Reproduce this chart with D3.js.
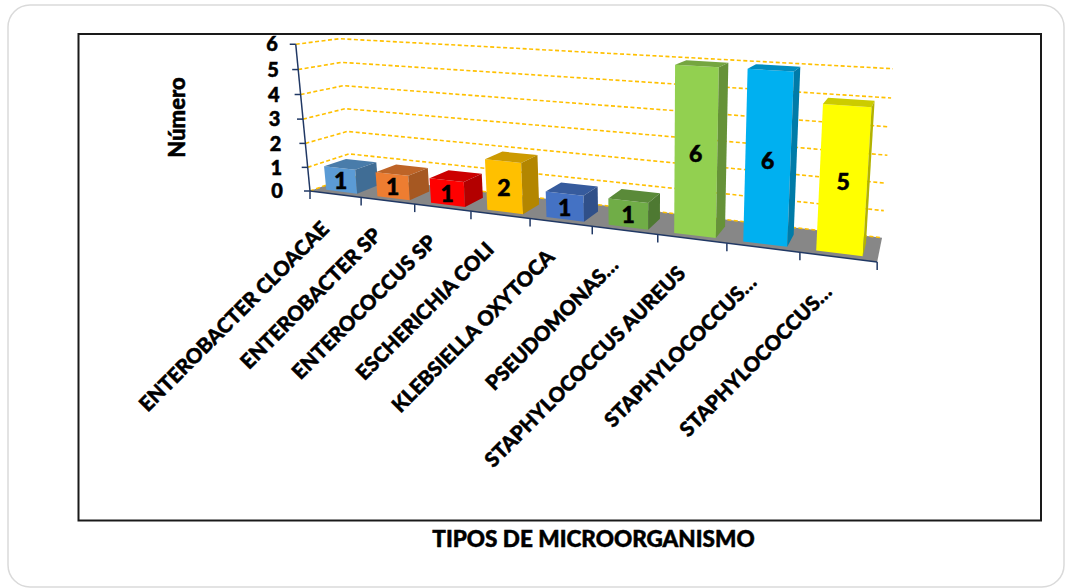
<!DOCTYPE html>
<html>
<head>
<meta charset="utf-8">
<script src="https://cdn.jsdelivr.net/npm/d3@7"></script>
<style>
  body { margin: 0; background: #fff; }
  text { font-family: Lato, "Open Sans", "DejaVu Sans", sans-serif; font-weight: 900; fill: #000;
         stroke: #000; stroke-width: 0.5px; }
</style>
</head>
<body>
<svg id="chart" width="1065" height="588"></svg>
<script>
// ---- data ----
const categories = [
  "ENTEROBACTER CLOACAE", "ENTEROBACTER SP", "ENTEROCOCCUS SP", "ESCHERICHIA COLI",
  "KLEBSIELLA OXYTOCA", "PSEUDOMONAS…", "STAPHYLOCOCCUS AUREUS", "STAPHYLOCOCCUS…", "STAPHYLOCOCCUS…"
];
const counts = [1, 1, 1, 2, 1, 1, 6, 6, 5];
const barColors = ["#5B9BD5", "#ED7D31", "#FF0000", "#FFC000", "#4472C4", "#70AD47", "#92D050", "#00B0F0", "#FFFF00"];
const valueTicks = [0, 1, 2, 3, 4, 5, 6];
const yTitle = "Número";
const xTitle = "TIPOS DE MICROORGANISMO";

// ---- perspective camera: world (x = category units, y = wall height 0..1, z = depth 0..1) -> screen ----
const cam = {
  origin: [310, 191],          // front-left floor corner
  ex: [42.8, 1.85],            // per category unit
  ey: [-26.0, -148.5],         // per wall height
  ez: [65.6, -2.6],            // per depth
  w: [-0.02305, -0.0397, 0.07] // perspective divisor terms
};
function project(X, Y, Z) {
  const w = 1 + cam.w[0] * X + cam.w[1] * Y + cam.w[2] * Z;
  return [
    (cam.origin[0] + cam.ex[0] * X + cam.ey[0] * Y + cam.ez[0] * Z) / w,
    (cam.origin[1] + cam.ex[1] * X + cam.ey[1] * Y + cam.ez[1] * Z) / w
  ];
}

const n = categories.length;
const x = d3.scaleBand().domain(d3.range(n)).range([0, n]).paddingInner(0.39).paddingOuter(0.195);
const y = d3.scaleLinear().domain([0, 6]).range([0, 1]);
const zFront = 0.15, zBack = 0.68;

const svg = d3.select("#chart");
const line = d3.line();
const poly = pts => line(pts) + "Z";

// card and plot frame
svg.append("rect").attr("x", 8).attr("y", 5).attr("width", 1056).attr("height", 582)
  .attr("rx", 22).attr("fill", "#fff").attr("stroke", "#dadada").attr("stroke-width", 1.5);
svg.append("rect").attr("x", 78.5).attr("y", 34).attr("width", 962.5).attr("height", 486.5)
  .attr("fill", "#fff").attr("stroke", "#1a1a1a").attr("stroke-width", 2);

// floor
svg.append("path")
  .attr("d", poly([project(0, 0, 0), project(n, 0, 0), project(n, 0, 1), project(0, 0, 1)]))
  .attr("fill", "#878787");

// gridlines on side wall and back wall
svg.append("g").selectAll("path").data(valueTicks).join("path")
  .attr("d", v => line([project(0, y(v), 0), project(0, y(v), 1), project(n, y(v), 1)]))
  .attr("fill", "none").attr("stroke", "#FFC000").attr("stroke-width", 1.6)
  .attr("stroke-dasharray", "4,2.5");

// value axis
const axisCol = "#203864";
svg.append("path").attr("d", line([project(0, 0, 0), project(0, 1, 0)]))
  .attr("stroke", axisCol).attr("stroke-width", 1.5).attr("fill", "none");
const yt = svg.append("g").selectAll("g").data(valueTicks).join("g");
yt.append("path").attr("d", v => { const p = project(0, y(v), 0); return line([[p[0] - 6, p[1]], p]); })
  .attr("stroke", axisCol).attr("stroke-width", 1.5);
yt.append("text")
  .attr("x", v => { const p = project(0, y(v), 0); return p[0] - 18 - (p[0] - 296) * 0.65; })
  .attr("y", v => project(0, y(v), 0)[1])
  .attr("dy", "0.36em").attr("text-anchor", "end").attr("font-size", 20)
  .text(v => v);

// category axis
svg.append("path").attr("d", line([project(0, 0, 0), project(n, 0, 0)]))
  .attr("stroke", axisCol).attr("stroke-width", 1.5).attr("fill", "none");
svg.append("g").selectAll("path").data(d3.range(n + 1)).join("path")
  .attr("d", i => { const p = project(i, 0, 0); return line([p, [p[0], p[1] + 8]]); })
  .attr("stroke", axisCol).attr("stroke-width", 1.5);

// bars (far to near)
function shade(c, k) { const r = d3.rgb(c); return d3.rgb(r.r * k, r.g * k, r.b * k).formatHex(); }
const bars = svg.append("g").selectAll("g").data(counts).join("g");
bars.each(function (v, i) {
  const g = d3.select(this);
  const x0 = x(i), x1 = x(i) + x.bandwidth(), h = y(v);
  const col = barColors[i];
  g.append("path").attr("d", poly([project(x0, 0, zFront), project(x1, 0, zFront), project(x1, h, zFront), project(x0, h, zFront)]))
    .attr("fill", col);
  g.append("path").attr("d", poly([project(x0, h, zFront), project(x1, h, zFront), project(x1, h, zBack), project(x0, h, zBack)]))
    .attr("fill", shade(col, 0.8));
  g.append("path").attr("d", poly([project(x1, 0, zFront), project(x1, 0, zBack), project(x1, h, zBack), project(x1, h, zFront)]))
    .attr("fill", shade(col, 0.7));
  const c = project((x0 + x1) / 2, h / 2, zFront);
  g.append("text").attr("x", c[0]).attr("y", c[1] + 1).attr("dy", "0.36em")
    .attr("text-anchor", "middle").attr("font-size", 23).text(v);
});

// category labels
svg.append("g").selectAll("text").data(categories).join("text")
  .attr("transform", (d, i) => { const p = project(i + 0.5, 0, 0); return `translate(${p[0] - 5},${p[1] + 36}) rotate(-45)`; })
  .attr("text-anchor", "end").attr("font-size", 20.5).text(d => d);

// axis titles
svg.append("text").attr("transform", "translate(185,117.5) rotate(-90)")
  .attr("text-anchor", "middle").attr("font-size", 22).text(yTitle);
svg.append("text").attr("x", 593.5).attr("y", 547)
  .attr("text-anchor", "middle").attr("font-size", 22.5).text(xTitle);
</script>
</body>
</html>
